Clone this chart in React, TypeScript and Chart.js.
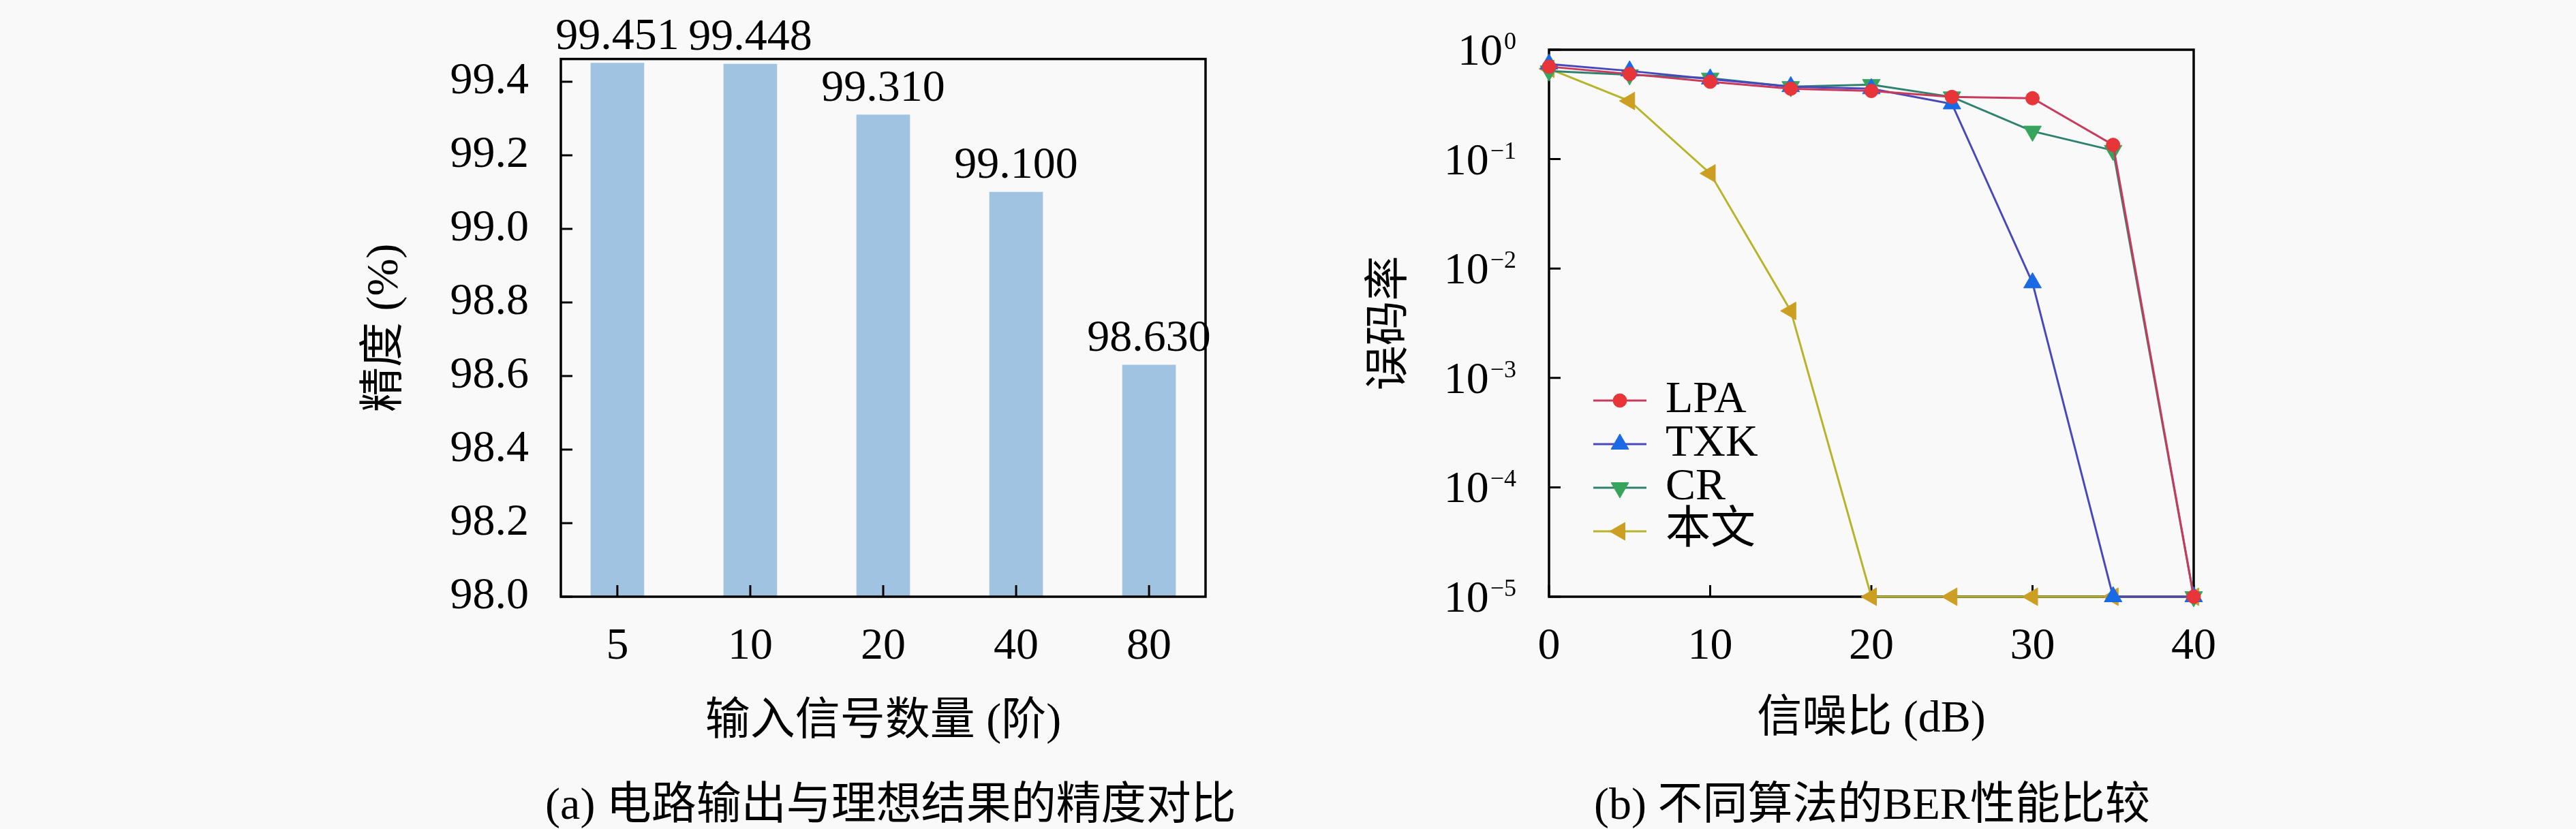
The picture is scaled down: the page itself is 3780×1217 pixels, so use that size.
import { useEffect, useRef } from "react"
import { Chart, registerables, type ChartConfiguration, type Plugin } from "chart.js"
import { drawPoint } from "chart.js/helpers"

Chart.register(...registerables)

const FONT = "'Liberation Serif', 'Noto Sans CJK SC', serif"
const FS = 66

// (a) 精度
const orderLabels = ["5", "10", "20", "40", "80"]
const accuracy = [99.451, 99.448, 99.31, 99.1, 98.63]
const accuracyTicks = [98.0, 98.2, 98.4, 98.6, 98.8, 99.0, 99.2, 99.4]

// (b) 误码率
const snr = [0, 5, 10, 15, 20, 25, 30, 35, 40]
const snrTicks = [0, 10, 20, 30, 40]
const berTicks = [1, 1e-1, 1e-2, 1e-3, 1e-4, 1e-5]
const berLPA = [0.7, 0.6, 0.51, 0.44, 0.42, 0.37, 0.36, 0.135, 1e-5]
const berTXK = [0.74, 0.64, 0.54, 0.46, 0.44, 0.32, 0.0074, 1e-5, 1e-5]
const berCR = [0.64, 0.59, 0.55, 0.46, 0.48, 0.37, 0.18, 0.12, 1e-5]
const berOurs = [0.67, 0.34, 0.074, 0.0041, 1e-5, 1e-5, 1e-5, 1e-5, 1e-5]

// 边框 + 朝内的刻度
function drawFrame(chart: Chart) {
	const { ctx, chartArea: a, scales } = chart
	ctx.save()
	ctx.strokeStyle = "#000"
	ctx.lineWidth = 3.5
	ctx.strokeRect(a.left, a.top, a.right - a.left, a.bottom - a.top)
	ctx.lineWidth = 3
	ctx.beginPath()
	for (const t of scales.x.ticks) {
		const px = scales.x.getPixelForValue(t.value)
		ctx.moveTo(px, a.bottom)
		ctx.lineTo(px, a.bottom - 17)
	}
	for (const t of scales.y.ticks) {
		const py = scales.y.getPixelForValue(t.value)
		ctx.moveTo(a.left, py)
		ctx.lineTo(a.left + 17, py)
	}
	ctx.stroke()
	ctx.restore()
}

const frameFront: Plugin = { id: "frameFront", afterDatasetsDraw: (chart) => drawFrame(chart) }
const frameBehind: Plugin = { id: "frameBehind", beforeDatasetsDraw: (chart) => drawFrame(chart) }

const barValueLabels: Plugin = {
	id: "barValueLabels",
	afterDatasetsDraw(chart) {
		const { ctx } = chart
		const meta = chart.getDatasetMeta(0)
		ctx.save()
		ctx.font = `${FS}px ${FONT}`
		ctx.fillStyle = "#000"
		ctx.textAlign = "center"
		ctx.textBaseline = "alphabetic"
		meta.data.forEach((bar, i) => {
			ctx.fillText(accuracy[i].toFixed(3), bar.x, bar.y - 21)
		})
		ctx.restore()
	},
}

// 10 的幂次刻度标签 (上标)
const logTickLabels: Plugin = {
	id: "logTickLabels",
	afterDraw(chart) {
		const { ctx, chartArea: a } = chart
		const y = chart.scales.y
		const right = a.left - 48
		ctx.save()
		ctx.fillStyle = "#000"
		ctx.textAlign = "left"
		ctx.textBaseline = "alphabetic"
		for (const t of y.ticks) {
			const py = y.getPixelForValue(t.value)
			const e = Math.round(Math.log10(t.value))
			const sup = e === 0 ? "0" : "\u2212" + Math.abs(e)
			ctx.font = `36px ${FONT}`
			const supW = ctx.measureText(sup).width
			ctx.fillText(sup, right - supW, py - 1)
			ctx.font = `${FS}px ${FONT}`
			const baseW = ctx.measureText("10").width
			ctx.fillText("10", right - supW - 2 - baseW, py + 22)
		}
		ctx.restore()
	},
}

const innerLegend: Plugin = {
	id: "innerLegend",
	afterDraw(chart) {
		const { ctx, chartArea: a } = chart
		ctx.save()
		chart.data.datasets.forEach((ds: any, i) => {
			const yy = a.bottom - 288 + i * 64
			const x0 = a.left + 65
			const x1 = a.left + 143
			ctx.strokeStyle = ds.borderColor
			ctx.lineWidth = 3
			ctx.beginPath()
			ctx.moveTo(x0, yy)
			ctx.lineTo(x1, yy)
			ctx.stroke()
			ctx.fillStyle = ds.pointBackgroundColor
			ctx.strokeStyle = ds.pointBorderColor
			ctx.lineWidth = 1
			drawPoint(ctx, { pointStyle: ds.pointStyle, rotation: ds.pointRotation, radius: ds.pointRadius, borderWidth: 1 }, (x0 + x1) / 2, yy)
			ctx.fillStyle = "#000"
			ctx.font = `${FS}px ${FONT}`
			ctx.textAlign = "left"
			ctx.textBaseline = "middle"
			ctx.fillText(ds.label, a.left + 171, yy)
		})
		ctx.restore()
	},
}

const font = { family: FONT, size: FS }

function AccuracyChart() {
	const canvasRef = useRef<HTMLCanvasElement>(null)

	useEffect(() => {
		if (!canvasRef.current) return
		const config: ChartConfiguration = {
			type: "bar",
			data: {
				datasets: [
					{
						label: "精度",
						data: accuracy.map((v, i) => ({ x: i, y: v })),
						backgroundColor: "#a0c3e1",
						borderWidth: 0,
						barThickness: 78,
					},
				],
			},
			options: {
				animation: false,
				responsive: true,
				maintainAspectRatio: false,
				layout: { padding: { top: 73, right: 71, left: 0, bottom: 0 } },
				plugins: { legend: { display: false }, tooltip: { enabled: false } },
				scales: {
					x: {
						type: "linear",
						offset: false,
						bounds: "data",
						min: -0.425,
						max: 4.425,
						afterBuildTicks: (s) => {
							s.ticks = orderLabels.map((_, i) => ({ value: i }))
						},
						afterFit: (s) => {
							s.height = 244
						},
						grid: { display: false, drawTicks: false, offset: false },
						border: { display: false },
						ticks: { color: "#000", font, padding: 34, maxRotation: 0, callback: (v) => orderLabels[Number(v)] },
						title: { display: true, text: "输入信号数量 (阶)", color: "#000", font, padding: { top: 0, bottom: 20 } },
					},
					y: {
						type: "linear",
						min: 98.0,
						max: 99.462,
						afterBuildTicks: (s) => {
							s.ticks = accuracyTicks.map((v) => ({ value: v }))
						},
						afterFit: (s) => {
							s.width = 383
						},
						grid: { display: false, drawTicks: false },
						border: { display: false },
						ticks: { color: "#000", font, padding: 47, callback: (v) => Number(v).toFixed(1) },
						title: { display: true, text: "精度 (%)", color: "#000", font, padding: { top: 86, bottom: 0 } },
					},
				},
			},
			plugins: [frameFront, barValueLabels],
		}
		const chart = new Chart(canvasRef.current, config)
		return () => chart.destroy()
	}, [])

	return (
		<div style={{ position: "absolute", left: 440, top: 0, width: 1400, height: 1120 }}>
			<canvas ref={canvasRef}></canvas>
		</div>
	)
}

function makeSeries(label: string, values: number[], line: string, marker: string, pointStyle: string, rotation: number, radius: number) {
	return {
		label,
		data: snr.map((x, i) => ({ x, y: values[i] })),
		borderColor: line,
		borderWidth: 3,
		pointBackgroundColor: marker,
		pointBorderColor: marker,
		pointBorderWidth: 1,
		pointStyle,
		pointRotation: rotation,
		pointRadius: radius,
		tension: 0,
		clip: false as const,
	}
}

function BerChart() {
	const canvasRef = useRef<HTMLCanvasElement>(null)

	useEffect(() => {
		if (!canvasRef.current) return
		const config: ChartConfiguration = {
			type: "line",
			data: {
				datasets: [
					makeSeries("LPA", berLPA, "#c93a5c", "#e8353a", "circle", 0, 10),
					makeSeries("TXK", berTXK, "#4848bc", "#1a6ae6", "triangle", 0, 15),
					makeSeries("CR", berCR, "#2f8270", "#36a45c", "triangle", 180, 15),
					makeSeries("本文", berOurs, "#b8b42a", "#cc9e22", "triangle", 270, 15),
				] as any,
			},
			options: {
				animation: false,
				responsive: true,
				maintainAspectRatio: false,
				layout: { padding: { top: 73, right: 71, left: 0, bottom: 0 } },
				plugins: { legend: { display: false }, tooltip: { enabled: false } },
				scales: {
					x: {
						type: "linear",
						min: 0,
						max: 40,
						afterBuildTicks: (s) => {
							s.ticks = snrTicks.map((v) => ({ value: v }))
						},
						afterFit: (s) => {
							s.height = 244
						},
						grid: { display: false, drawTicks: false },
						border: { display: false },
						ticks: { color: "#000", font, padding: 34, maxRotation: 0 },
						title: { display: true, text: "信噪比 (dB)", color: "#000", font, padding: { top: 0, bottom: 24 } },
					},
					y: {
						type: "logarithmic",
						min: 1e-5,
						max: 1,
						afterBuildTicks: (s) => {
							s.ticks = berTicks.map((v) => ({ value: v }))
						},
						afterFit: (s) => {
							s.width = 383
						},
						grid: { display: false, drawTicks: false },
						border: { display: false },
						ticks: { display: false },
						title: { display: true, text: "误码率", color: "#000", font, padding: { top: 111, bottom: 0 } },
					},
				},
			},
			plugins: [frameBehind, logTickLabels, innerLegend],
		}
		const chart = new Chart(canvasRef.current, config)
		return () => chart.destroy()
	}, [])

	return (
		<div style={{ position: "absolute", left: 1890, top: 0, width: 1400, height: 1120 }}>
			<canvas ref={canvasRef}></canvas>
		</div>
	)
}

const captionStyle = {
	position: "absolute" as const,
	top: 1140,
	width: 1400,
	textAlign: "center" as const,
	fontFamily: FONT,
	fontSize: FS,
	lineHeight: "80px",
	color: "#000",
	whiteSpace: "nowrap" as const,
}

export default function App() {
	return (
		<div style={{ position: "absolute", left: 0, top: 0, width: 3780, height: 1217, background: "#f9f9f9", overflow: "hidden" }}>
			<AccuracyChart />
			<BerChart />
			<div style={{ ...captionStyle, left: 1307 - 700 }}>(a) 电路输出与理想结果的精度对比</div>
			<div style={{ ...captionStyle, left: 2747 - 700 }}>(b) 不同算法的BER性能比较</div>
		</div>
	)
}
